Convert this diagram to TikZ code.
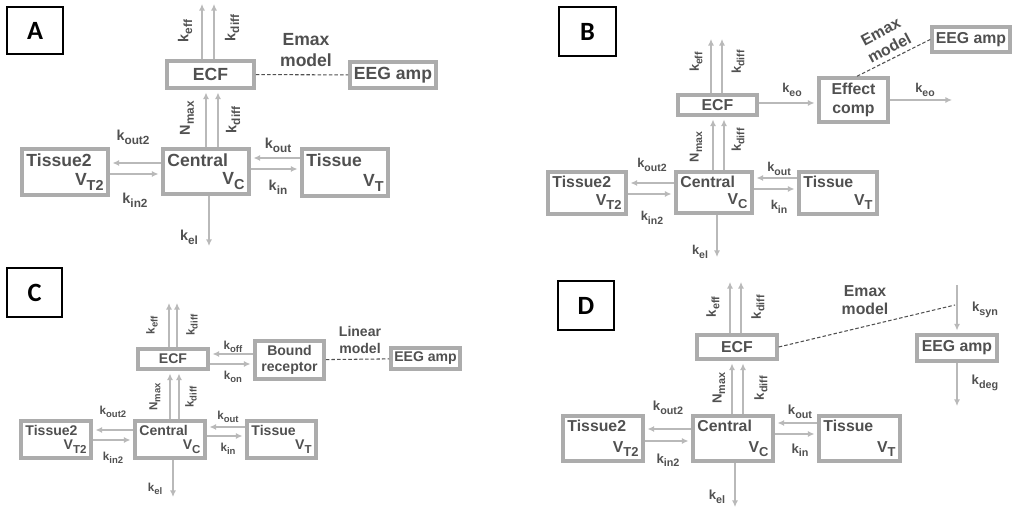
\documentclass[tikz,border=0pt]{standalone}
\usepackage{fontspec}
\setmainfont{Liberation Sans}
\newfontfamily\tagfont{Carlito}
\usetikzlibrary{arrows.meta,positioning,fit}
\definecolor{boxgray}{RGB}{172,172,172}
\definecolor{arrgray}{RGB}{185,185,185}
\definecolor{txtgray}{RGB}{80,80,80}
\newcommand{\lo}[1]{\raisebox{-0.5ex}{\scalebox{0.82}{#1}}}
\newcommand{\pfont}[2]{\bfseries\fontsize{#1}{#2}\selectfont}
% compartment with name top left and volume bottom right
\newcommand{\comp}[5]{%
  \node[box, fit={(#2) (#3)}] (#1) {};
  \node[anchor=north west] (#1n) at (#1.north west) {#4};
  \node[anchor=south east] (#1v) at (#1.south east) {V\lo{#5}};
}

\begin{document}
\begin{tikzpicture}[x=0.02cm, y=-0.02cm,
    box/.style={draw=boxgray, line width=2pt, inner sep=0pt},
    arr/.style={draw=arrgray, line width=0.8pt, -{Latex[length=3.8pt,width=3.4pt]}, shorten >=1.5pt},
    emline/.style={draw=txtgray, dash pattern=on 2pt off 1.2pt, line width=0.6pt},
    tag/.style={draw=black, line width=0.8pt, inner sep=0pt},
    tagtext/.style={text=black, font=\tagfont\bfseries\fontsize{15}{15}\selectfont},
    every node/.append style={text=txtgray},
    klab/.style={}]
    \useasboundingbox (0,0) rectangle (1014,509);

    % Panel A
    \node[tag, fit={(7,7) (63,54)}, label={[tagtext]center:A}] (tagA) {};
    \begin{scope}[font=\pfont{10}{11.5}, klab/.style={font=\pfont{8.2}{9}}]
        \node[box, fit={(167,61) (254,88)}, label=center:ECF] (ecfA) {};
        \node[box, fit={(350,62) (436,88)}, label=center:EEG amp] (eegA) {};
        \comp{cenA}{163,149}{249,194}{Central}{C}
        \comp{t2A}{22,149}{108,195}{Tissue2}{T2}
        \comp{tA}{302,149}{388,196}{Tissue}{T}
        \draw[emline] (ecfA) -- (eegA);
        \node[align=center] (emA) at (306,50) {Emax\\model};
        \foreach \x in {202,214} \draw[arr] (ecfA.north -| \x,0) -- ++(0,-58);
        \foreach \x in {206,218} \draw[arr] (cenA.north -| \x,0) -- (ecfA.south -| \x,0);
        \draw[arr] (cenA.west |- 0,163) -- (t2A.east |- 0,163);
        \draw[arr] (t2A.east |- 0,174) -- (cenA.west |- 0,174);
        \draw[arr] (tA.west |- 0,158) -- (cenA.east |- 0,158);
        \draw[arr] (cenA.east |- 0,169) -- (tA.west |- 0,169);
        \draw[arr] (cenA.south -| 209,0) -- ++(0,53);
        \foreach \n/\p/\s in {kout2A/{133,137}/out2, kin2A/{135,200}/in2, koutA/{278,145}/out, kinA/{278,187}/in, kelA/{189,237}/el}
            \node[klab] (\n) at (\p) {k\lo{\s}};
        \foreach \n/\p/\t in {keffA/{185,31}/k\lo{eff}, kdiffA/{232,28}/k\lo{diff}, nmaxA/{187,118}/N\lo{max}, kdiff2A/{233,120}/k\lo{diff}}
            \node[klab, rotate=90] (\n) at (\p) {\t};
    \end{scope}

    % Panel B
    \node[tag, fit={(559,7) (616,56)}, label={[tagtext]center:B}] (tagB) {};
    \begin{scope}[font=\pfont{9}{10.5}, klab/.style={font=\pfont{7.3}{8}}]
        \node[box, fit={(678,95) (757,115)}, label=center:ECF] (ecfB) {};
        \node[box, fit={(819,78) (888,122)}, label={[align=center]center:Effect\\comp}] (effB) {};
        \node[box, fit={(932,27) (1010,52)}, label=center:EEG amp] (eegB) {};
        \comp{cenB}{676,172}{752,213}{Central}{C}
        \comp{t2B}{548,172}{626,214}{Tissue2}{T2}
        \comp{tB}{799,172}{877,214}{Tissue}{T}
        \foreach \x in {711,722} \draw[arr] (ecfB.north -| \x,0) -- ++(0,-57);
        \draw[arr] (ecfB.east |- 0,103) -- (effB.west |- 0,103);
        \draw[arr] (effB.east |- 0,100) -- ++(65,0);
        \draw[emline] ([xshift=2pt]effB.north) -- (eegB.west);
        \node[align=center, rotate=28] (emB) at (885,40) {Emax\\model};
        \foreach \x in {713,724} \draw[arr] (cenB.north -| \x,0) -- (ecfB.south -| \x,0);
        \draw[arr] (cenB.west |- 0,183) -- (t2B.east |- 0,183);
        \draw[arr] (t2B.east |- 0,194) -- (cenB.west |- 0,194);
        \draw[arr] (tB.west |- 0,178) -- (cenB.east |- 0,178);
        \draw[arr] (cenB.east |- 0,189) -- (tB.west |- 0,189);
        \draw[arr] (cenB.south -| 717,0) -- ++(0,45);
        \foreach \n/\p/\s in {kout2B/{652,165}/out2, kin2B/{652,218}/in2, koutB/{779,169}/out, kinB/{779,207}/in, kelB/{700,252}/el, keoB/{792,90}/eo, keo2B/{925,90}/eo}
            \node[klab] (\n) at (\p) {k\lo{\s}};
        \foreach \n/\p/\t in {keffB/{696,62}/k\lo{eff}, kdiffB/{738,62}/k\lo{diff}, nmaxB/{696,147}/N\lo{max}, kdiff2B/{738,140}/k\lo{diff}}
            \node[klab, rotate=90] (\n) at (\p) {\t};
    \end{scope}

    % Panel C
    \node[tag, fit={(7,268) (62,317)}, label={[tagtext]center:C}] (tagC) {};
    \begin{scope}[font=\pfont{8}{9.2}, klab/.style={font=\pfont{6.6}{7.5}}]
        \node[box, fit={(138,349) (208,369)}, label=center:ECF] (ecfC) {};
        \node[box, fit={(255,341) (324,379)}, label={[align=center]center:Bound\\receptor}] (bndC) {};
        \node[box, fit={(391,348) (460,369)}, label=center:EEG amp] (eegC) {};
        \comp{cenC}{135,421}{205,458}{Central}{C}
        \comp{t2C}{21,421}{91,458}{Tissue2}{T2}
        \comp{tC}{247,421}{316,458}{Tissue}{T}
        \foreach \x in {169,177} \draw[arr] (ecfC.north -| \x,0) -- ++(0,-47);
        \draw[arr] (bndC.west |- 0,354) -- (ecfC.east |- 0,354);
        \draw[arr] (ecfC.east |- 0,364) -- (bndC.west |- 0,364);
        \draw[emline] (bndC) -- (eegC);
        \node[align=center] (lmC) at (360,340) {Linear\\model};
        \foreach \x in {170,179} \draw[arr] (cenC.north -| \x,0) -- (ecfC.south -| \x,0);
        \draw[arr] (cenC.west |- 0,430) -- (t2C.east |- 0,430);
        \draw[arr] (t2C.east |- 0,440) -- (cenC.west |- 0,440);
        \draw[arr] (tC.west |- 0,427) -- (cenC.east |- 0,427);
        \draw[arr] (cenC.east |- 0,436) -- (tC.west |- 0,436);
        \draw[arr] (cenC.south -| 173,0) -- ++(0,40);
        \foreach \n/\p/\s in {kout2C/{113,412}/out2, kin2C/{113,458}/in2, koutC/{228,417}/out, kinC/{228,449}/in, kelC/{155,489}/el, koffC/{233,347}/off, konC/{233,377}/on}
            \node[klab] (\n) at (\p) {k\lo{\s}};
        \foreach \n/\p/\t in {keffC/{152,325}/k\lo{eff}, kdiffC/{192,325}/k\lo{diff}, nmaxC/{155,397}/N\lo{max}, kdiff2C/{191,397}/k\lo{diff}}
            \node[klab, rotate=90] (\n) at (\p) {\t};
    \end{scope}

    % Panel D
    \node[tag, fit={(558,281) (614,330)}, label={[tagtext]center:D}] (tagD) {};
    \begin{scope}[font=\pfont{9}{10.5}, klab/.style={font=\pfont{7.5}{8.5}}]
        \node[box, fit={(697,335) (777,359)}, label=center:ECF] (ecfD) {};
        \node[box, fit={(917,335) (997,361)}, label=center:EEG amp] (eegD) {};
        \comp{cenD}{693,416}{773,461}{Central}{C}
        \comp{t2D}{563,416}{643,461}{Tissue2}{T2}
        \comp{tD}{819,416}{900,461}{Tissue}{T}
        \coordinate (synD) at (957,285);
        \coordinate (emD) at (955,305);
        \foreach \x in {730,741} \draw[arr] (ecfD.north -| \x,0) -- ++(0,-54);
        \draw[emline] (ecfD.east) -- (emD);
        \node[align=center] (emtD) at (865,300) {Emax\\model};
        \draw[arr] (synD) -- (eegD.north -| synD);
        \draw[arr] (eegD.south -| synD) -- ++(0,46);
        \foreach \x in {732,743} \draw[arr] (cenD.north -| \x,0) -- (ecfD.south -| \x,0);
        \draw[arr] (cenD.west |- 0,429) -- (t2D.east |- 0,429);
        \draw[arr] (t2D.east |- 0,441) -- (cenD.west |- 0,441);
        \draw[arr] (tD.west |- 0,423) -- (cenD.east |- 0,423);
        \draw[arr] (cenD.east |- 0,434) -- (tD.west |- 0,434);
        \draw[arr] (cenD.south -| 735,0) -- ++(0,47);
        \foreach \n/\p/\s in {kout2D/{668,408}/out2, kin2D/{668,460}/in2, koutD/{800,412}/out, kinD/{800,450}/in, kelD/{717,497}/el, ksynD/{985,310}/syn, kdegD/{985,383}/deg}
            \node[klab] (\n) at (\p) {k\lo{\s}};
        \foreach \n/\p/\t in {keffD/{713,307}/k\lo{eff}, kdiffD/{758,307}/k\lo{diff}, nmaxD/{719,388}/N\lo{max}, kdiff2D/{761,388}/k\lo{diff}}
            \node[klab, rotate=90] (\n) at (\p) {\t};
    \end{scope}

\end{tikzpicture}
\end{document}
